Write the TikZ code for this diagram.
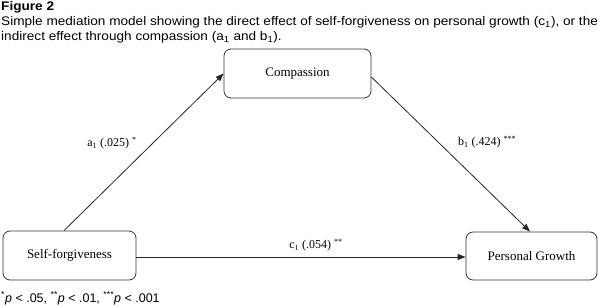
\documentclass[tikz,border=0pt]{standalone}
\usepackage{fontspec}
\setmainfont{Liberation Serif}
\newfontfamily\arial{Liberation Sans}
\newfontfamily\arialw[FakeStretch=1.088]{Liberation Sans}
\usetikzlibrary{arrows.meta}
\begin{document}
\begin{tikzpicture}[x=1pt,y=-1pt,
  varbox/.style={draw=black!80,line width=0.8pt,rounded corners=7pt,inner sep=0pt,font=\fontsize{13}{15}\selectfont},
  conn/.style={draw=black!85,line width=0.8pt,-{Triangle[length=8pt,width=6pt]}},
  lbl/.style={font=\fontsize{12}{14}\selectfont,inner sep=0pt},
  captext/.style={anchor=base west,inner sep=0pt,font=\arialw\fontsize{12.5}{14}\selectfont}]
\useasboundingbox (0,0) rectangle (600,307);
\node[captext,font=\arialw\bfseries\fontsize{12.5}{14}\selectfont] (fig) at (1,11) {Figure 2};
\node[captext] (cap1) at (1,26) {Simple mediation model showing the direct effect of self-forgiveness on personal growth (c\textsubscript{1}), or the};
\node[captext] (cap2) at (1,40.5) {indirect effect through compassion (a\textsubscript{1} and b\textsubscript{1}).};
\node[varbox,minimum width=147pt,minimum height=49pt] (comp) at (297.5,73.5) {Compassion};
\node[varbox,minimum width=133pt,minimum height=49pt] (sf) at (69.5,255.5) {Self-forgiveness};
\node[varbox,minimum width=131pt,minimum height=48pt] (pg) at (531.5,256) {Personal Growth};
\draw[conn] ([xshift=-5.5pt]sf.north) -- (comp.west);
\draw[conn] ([yshift=-3.5pt]comp.east) -- ([xshift=-1.5pt]pg.north);
\draw[conn] ([yshift=-1.5pt]sf.east) -- ([yshift=-1pt]pg.west);
\node[lbl] (la) at (112,143) {a\textsubscript{1} (.025) \textsuperscript{*}};
\node[lbl] (lb) at (487,142) {b\textsubscript{1} (.424) \textsuperscript{***}};
\node[lbl] (lc) at (316,245) {c\textsubscript{1} (.054) \textsuperscript{**}};
\node[captext,font=\arial\fontsize{12.5}{14}\selectfont] (note) at (1,302) {\textsuperscript{*}\textit{p} < .05, \textsuperscript{**}\textit{p} < .01, \textsuperscript{***}\textit{p} < .001};
\end{tikzpicture}
\end{document}
